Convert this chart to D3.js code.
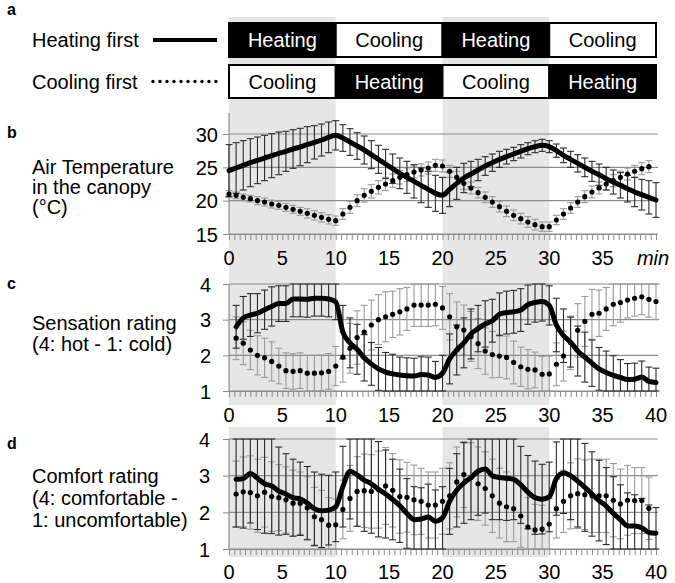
<!DOCTYPE html>
<html><head><meta charset="utf-8">
<script src="https://cdn.jsdelivr.net/npm/d3@7"></script>
<style>
body{margin:0;background:#fff;}
svg{display:block;font-family:"Liberation Sans",Arial,sans-serif;}
</style></head><body>
<svg id="chart" width="675" height="583"></svg>
<script>
// ---------------- DATA ----------------
const seriesNames = ["Heating first", "Cooling first"];
const phasesHeatingFirst = ["Heating", "Cooling", "Heating", "Cooling"];
const phasesCoolingFirst = ["Cooling", "Heating", "Cooling", "Heating"];
const phaseBounds = [0, 10, 20, 30, 40];
const shadedPhases = [[0, 10], [20, 30]];

// sample times in seconds (every 40 s)
const secondsB = [0,40,80,120,160,200,240,280,320,360,400,440,480,520,560,600,640,680,720,760,800,840,880,920,960,1000,1040,1080,1120,1160,1200,1240,1280,1320,1360,1400,1440,1480,1520,1560,1600,1640,1680,1720,1760,1800,1840,1880,1920,1960,2000,2040,2080,2120,2160,2200,2240,2280,2320,2360,2400];
const secondsCD = [40,80,120,160,200,240,280,320,360,400,440,480,520,560,600,640,680,720,760,800,840,880,920,960,1000,1040,1080,1120,1160,1200,1240,1280,1320,1360,1400,1440,1480,1520,1560,1600,1640,1680,1720,1760,1800,1840,1880,1920,1960,2000,2040,2080,2120,2160,2200,2240,2280,2320,2360,2400];

const xTickValues = [0, 5, 10, 15, 20, 25, 30, 35, 40];
const xTickLabelsB = ["0", "5", "10", "15", "20", "25", "30", "35", "min"];
const xTickLabelsCD = ["0", "5", "10", "15", "20", "25", "30", "35", "40"];
const yTicksB = [15, 20, 25, 30];
const yTicksCD = [1, 2, 3, 4];

// b: air temperature (°C)
const tempHeatMean = [24.5,24.9,25.3,25.7,26.05,26.4,26.75,27.1,27.4,27.75,28.05,28.4,28.75,29.1,29.5,29.8,
  29.4,28.8,28.2,27.6,26.9,26.2,25.5,24.8,24.1,23.5,22.9,22.3,21.7,21.1,20.8,
  21.7,22.6,23.4,24.0,24.6,25.2,25.7,26.2,26.6,27.0,27.4,27.8,28.1,28.3,28.1,
  27.5,26.8,26.2,25.6,25.0,24.4,23.9,23.3,22.8,22.3,21.8,21.3,20.9,20.5,20.1];
const tempHeatSD = [3.9,3.8,3.7,3.6,3.5,3.4,3.3,3.2,3.0,2.9,2.8,2.7,2.5,2.4,2.3,2.2,
  2.0,2.0,2.0,2.1,2.1,2.1,2.2,2.2,2.3,2.4,2.5,2.6,2.7,2.7,2.7,
  2.6,2.4,2.2,1.9,1.6,1.4,1.3,1.2,1.1,1.0,1.0,0.9,0.9,0.9,0.9,
  1.0,1.1,1.2,1.3,1.4,1.5,1.6,1.7,1.8,1.9,2.0,2.2,2.3,2.5,2.6];
const tempCoolMean = [21.0,20.8,20.5,20.3,20.0,19.8,19.5,19.3,19.0,18.7,18.4,18.1,17.8,17.5,17.2,17.0,
  18.0,19.0,20.0,20.8,21.4,22.0,22.5,23.0,23.5,23.9,24.3,24.6,24.9,25.3,25.2,
  24.4,23.5,22.6,21.9,21.2,20.5,19.8,19.1,18.4,17.8,17.3,16.8,16.4,16.1,16.1,
  17.1,18.0,18.9,19.8,20.6,21.3,21.9,22.5,23.0,23.5,24.0,24.4,24.8,25.1];
const tempCoolSD = [0.5,0.5,0.5,0.5,0.6,0.6,0.6,0.6,0.6,0.6,0.6,0.7,0.7,0.7,0.7,0.7,
  0.8,0.9,0.9,1.0,1.0,1.0,1.0,1.0,1.0,1.0,0.9,0.9,0.9,0.9,0.9,
  0.9,0.9,0.9,0.9,0.8,0.8,0.8,0.8,0.8,0.8,0.8,0.8,0.8,0.7,0.7,
  0.7,0.8,0.8,0.8,0.9,0.9,0.9,0.9,0.9,0.9,0.9,0.9,0.9,0.9];

// c: sensation rating
const sensHeatMean = [2.8,3.05,3.13,3.18,3.28,3.37,3.45,3.45,3.58,3.58,3.57,3.6,3.6,3.58,3.5,
  2.65,2.35,2.17,1.93,1.76,1.62,1.53,1.48,1.45,1.43,1.42,1.46,1.45,1.38,1.5,
  1.9,2.15,2.35,2.6,2.75,2.88,2.97,3.15,3.2,3.22,3.27,3.42,3.48,3.51,3.4,
  2.85,2.55,2.37,2.12,1.95,1.78,1.62,1.52,1.44,1.38,1.32,1.33,1.39,1.27,1.24];
const sensHeatSD = [0.6,0.6,0.6,0.55,0.55,0.55,0.5,0.5,0.5,0.5,0.5,0.5,0.5,0.5,0.5,
  0.75,0.7,0.7,0.65,0.6,0.6,0.55,0.55,0.5,0.5,0.5,0.5,0.5,0.45,0.5,
  0.7,0.7,0.7,0.7,0.65,0.65,0.6,0.6,0.6,0.6,0.6,0.55,0.55,0.55,0.55,
  0.75,0.75,0.7,0.7,0.7,0.65,0.6,0.6,0.55,0.5,0.45,0.45,0.45,0.4,0.4];
const sensCoolMean = [2.48,2.34,2.15,2.0,1.93,1.83,1.7,1.57,1.55,1.57,1.5,1.5,1.51,1.55,1.7,
  1.95,2.2,2.5,2.65,2.85,3.0,3.08,3.15,3.22,3.3,3.41,3.41,3.41,3.43,3.33,
  3.08,2.8,2.71,2.53,2.33,2.12,2.02,1.98,1.94,1.8,1.68,1.61,1.59,1.47,1.48,
  1.75,1.98,2.35,2.7,2.95,3.15,3.18,3.3,3.43,3.48,3.55,3.6,3.64,3.57,3.51];
const sensCoolSD = [0.6,0.6,0.55,0.55,0.55,0.55,0.5,0.5,0.5,0.5,0.5,0.5,0.5,0.5,0.55,
  0.7,0.7,0.75,0.75,0.7,0.7,0.7,0.65,0.65,0.6,0.6,0.6,0.6,0.6,0.6,
  0.65,0.7,0.7,0.7,0.7,0.65,0.65,0.6,0.6,0.6,0.55,0.55,0.5,0.5,0.5,
  0.6,0.7,0.75,0.75,0.7,0.7,0.65,0.6,0.6,0.55,0.5,0.5,0.5,0.5,0.5];

// d: comfort rating
const comfHeatMean = [2.9,2.92,3.06,2.93,2.78,2.72,2.58,2.5,2.4,2.37,2.25,2.1,2.04,2.06,2.15,
  2.7,3.12,3.02,2.88,2.78,2.63,2.5,2.35,2.18,1.97,1.8,1.82,1.87,1.76,1.85,
  2.3,2.6,2.8,2.95,3.12,3.18,3.0,2.95,2.93,2.9,2.75,2.55,2.4,2.36,2.42,
  2.92,3.07,3.0,2.85,2.68,2.5,2.32,2.17,1.97,1.8,1.63,1.63,1.58,1.45,1.43];
const comfHeatSD = [1.3,1.35,1.35,1.4,1.35,1.3,1.2,1.1,1.05,1.0,1.0,1.0,1.0,0.95,0.95,
  1.1,1.3,1.4,1.4,1.35,1.3,1.2,1.1,1.0,0.95,0.9,0.85,0.9,0.85,0.85,
  0.9,1.0,1.1,1.15,1.2,1.2,1.2,1.15,1.15,1.1,1.05,1.0,1.0,0.95,0.95,
  1.0,1.1,1.2,1.25,1.2,1.15,1.1,1.05,1.0,0.95,0.9,0.85,0.8,0.75,0.7];
const comfCoolMean = [2.5,2.56,2.54,2.45,2.55,2.43,2.4,2.34,2.25,2.25,2.12,1.88,1.8,1.65,1.66,
  2.08,2.38,2.57,2.59,2.57,2.62,2.72,2.6,2.43,2.41,2.34,2.3,2.2,2.2,2.3,
  2.45,2.83,3.03,2.95,2.78,2.65,2.45,2.25,2.15,2.1,1.9,1.6,1.52,1.54,1.68,
  2.1,2.3,2.45,2.51,2.48,2.45,2.45,2.45,2.33,2.23,2.33,2.32,2.32,2.11];
const comfCoolSD = [0.9,0.95,1.0,1.0,0.95,0.95,0.9,0.9,0.9,0.85,0.85,0.8,0.8,0.75,0.7,
  0.8,0.9,0.95,1.0,1.0,1.05,1.05,1.0,1.0,0.95,0.95,0.9,0.9,0.9,0.9,
  0.9,0.95,0.9,0.95,1.0,1.0,1.0,0.95,0.95,0.9,0.85,0.8,0.7,0.65,0.7,
  0.8,0.85,0.9,0.95,0.95,1.0,1.0,1.0,1.0,0.95,0.95,0.9,0.9,0.85];

// ---------------- DRAWING ----------------
const svg = d3.select("#chart");
const FONT = 20;
const x = d3.scaleLinear().domain([0, 40]).range([229, 656]);
const GRID = "#8c8c8c";

function zip(secs, mean, sd) {
  return mean.map((m, i) => ({ t: secs[i] / 60, m: m, sd: sd[i] }));
}

// shaded phases
const bandRows = [[17, 405], [427, 557]];
bandRows.forEach(([y0, y1]) => {
  shadedPhases.forEach(([a, b]) => {
    svg.append("rect").attr("x", x(a)).attr("y", y0)
      .attr("width", x(b) - x(a)).attr("height", y1 - y0).attr("fill", "#e6e6e6");
  });
});

// panel letters
[["a", 15], ["b", 138], ["c", 289], ["d", 449]].forEach(([l, y]) => {
  svg.append("text").attr("x", 7).attr("y", y).attr("font-size", 16)
    .attr("font-weight", "bold").text(l);
});

// panel a: protocol rows
const rowsA = [
  { name: seriesNames[0], phases: phasesHeatingFirst, y0: 23, y1: 57 },
  { name: seriesNames[1], phases: phasesCoolingFirst, y0: 65, y1: 98 }
];
rowsA.forEach((row, ri) => {
  const cy = (row.y0 + row.y1) / 2;
  svg.append("text").attr("x", 32).attr("y", cy + 7).attr("font-size", FONT).text(row.name);
  if (ri === 0) {
    svg.append("line").attr("x1", 153).attr("x2", 217).attr("y1", cy).attr("y2", cy)
      .attr("stroke", "#000").attr("stroke-width", 4);
  } else {
    d3.range(10).forEach(k => {
      svg.append("circle").attr("cx", 153 + k * 7).attr("cy", cy).attr("r", 1.7).attr("fill", "#000");
    });
  }
  row.phases.forEach((p, i) => {
    const heat = p === "Heating";
    svg.append("rect").attr("x", x(phaseBounds[i])).attr("y", row.y0)
      .attr("width", x(phaseBounds[i + 1]) - x(phaseBounds[i])).attr("height", row.y1 - row.y0)
      .attr("fill", heat ? "#000" : "#fff").attr("stroke", "#000").attr("stroke-width", 2);
    svg.append("text").attr("x", (x(phaseBounds[i]) + x(phaseBounds[i + 1])) / 2).attr("y", cy + 7)
      .attr("text-anchor", "middle").attr("font-size", FONT)
      .attr("fill", heat ? "#fff" : "#000").text(p);
  });
});

// chart panels
const panels = [
  { domain: [15, 33.15], range: [234, 113], yTicks: yTicksB, labelX: 218,
    title: ["Air Temperature", "in the canopy", "(°C)"], titleY: 174, lineGap: 20,
    xLabels: xTickLabelsB, xLabelY: 265,
    heat: zip(secondsB, tempHeatMean, tempHeatSD), cool: zip(secondsB, tempCoolMean, tempCoolSD) },
  { domain: [1, 4], range: [391, 284], yTicks: yTicksCD, labelX: 211,
    title: ["Sensation rating", "(4: hot - 1: cold)"], titleY: 330, lineGap: 21,
    xLabels: xTickLabelsCD, xLabelY: 422,
    heat: zip(secondsCD, sensHeatMean, sensHeatSD), cool: zip(secondsCD, sensCoolMean, sensCoolSD) },
  { domain: [1, 4], range: [549, 439], yTicks: yTicksCD, labelX: 210,
    title: ["Comfort rating", "(4: comfortable -", "1: uncomfortable)"], titleY: 483, lineGap: 22,
    xLabels: xTickLabelsCD, xLabelY: 579,
    heat: zip(secondsCD, comfHeatMean, comfHeatSD), cool: zip(secondsCD, comfCoolMean, comfCoolSD) }
];

panels.forEach(p => {
  const y = d3.scaleLinear().domain(p.domain).range(p.range);
  const g = svg.append("g");
  const yBottom = p.range[0], yTop = p.range[1];

  // title
  p.title.forEach((s, i) => {
    g.append("text").attr("x", 32).attr("y", p.titleY + i * p.lineGap)
      .attr("font-size", FONT).text(s);
  });

  // gridlines
  p.yTicks.forEach(v => {
    g.append("line").attr("x1", x(0)).attr("x2", x(40) + 2).attr("y1", y(v)).attr("y2", y(v))
      .attr("stroke", GRID).attr("stroke-width", 1.2);
  });

  // y axis
  const ya = d3.axisLeft(y).tickValues(p.yTicks).tickSize(6).tickPadding(0).tickFormat(d3.format("d"));
  const yg = g.append("g").attr("transform", `translate(${x(0)},0)`).call(ya);
  yg.select(".domain").remove();
  yg.append("line").attr("x1", 0).attr("x2", 0).attr("y1", yTop).attr("y2", yBottom)
    .attr("stroke", GRID).attr("stroke-width", 1.2);
  yg.selectAll(".tick line").attr("stroke", GRID);
  yg.selectAll(".tick text").attr("font-size", FONT).attr("fill", "#000")
    .attr("font-family", "Liberation Sans, Arial, sans-serif")
    .attr("x", p.labelX - x(0)).attr("dy", "0.35em");

  // x minor ticks
  const xa = d3.axisBottom(x).tickValues(d3.range(0, 40.01, 0.5)).tickSize(6).tickFormat("");
  const xg = g.append("g").attr("transform", `translate(0,${yBottom})`).call(xa);
  xg.select(".domain").attr("stroke", GRID);
  xg.selectAll(".tick line").attr("stroke", GRID);

  // x labels
  xTickValues.forEach((v, i) => {
    const lab = p.xLabels[i];
    const t = g.append("text").attr("x", lab === "min" ? x(v) - 3 : x(v)).attr("y", p.xLabelY)
      .attr("text-anchor", "middle").attr("font-size", FONT).text(lab);
    if (lab === "min") t.attr("font-style", "italic");
  });

  const clip = v => Math.max(p.domain[0], Math.min(p.domain[1], v));
  function bars(data, color) {
    const bg = g.append("g").attr("stroke", color).attr("stroke-width", 1.1);
    data.forEach(d => {
      const lo = y(clip(d.m - d.sd)), hi = y(clip(d.m + d.sd)), cx = x(d.t);
      bg.append("line").attr("x1", cx).attr("x2", cx).attr("y1", lo).attr("y2", hi);
      bg.append("line").attr("x1", cx - 3.5).attr("x2", cx + 3.5).attr("y1", lo).attr("y2", lo);
      bg.append("line").attr("x1", cx - 3.5).attr("x2", cx + 3.5).attr("y1", hi).attr("y2", hi);
    });
  }
  bars(p.cool, "#9a9a9a");
  bars(p.heat, "#2a2a2a");

  // cooling-first dotted series
  g.append("g").selectAll("circle").data(p.cool).join("circle")
    .attr("cx", d => x(d.t)).attr("cy", d => y(d.m)).attr("r", 2.6).attr("fill", "#000");

  // heating-first solid line
  g.append("path").datum(p.heat)
    .attr("d", d3.line().x(d => x(d.t)).y(d => y(d.m)).curve(d3.curveMonotoneX))
    .attr("fill", "none").attr("stroke", "#000").attr("stroke-width", 5)
    .attr("stroke-linejoin", "round").attr("stroke-linecap", "round");
});
</script>
</body></html>
